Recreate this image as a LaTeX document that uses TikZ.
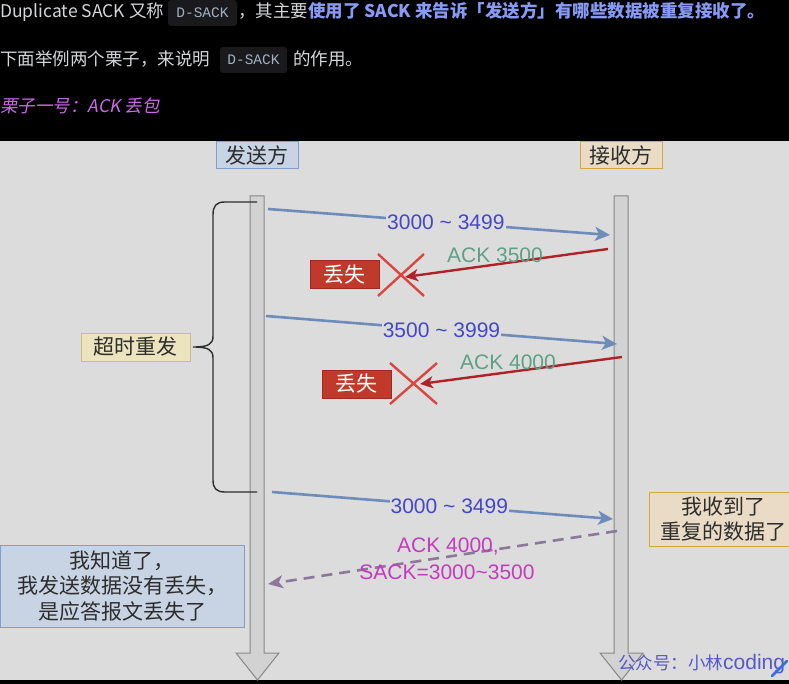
\documentclass[tikz,border=0pt]{standalone}
\usepackage{fontspec}
\setmainfont{Liberation Sans}
\setmonofont{Liberation Mono}
\newfontfamily\cjk{Noto Sans CJK SC}
\newfontfamily\cjkslant[FakeSlant=0.2]{Noto Sans CJK SC}
\usetikzlibrary{arrows.meta}

% Palette
\definecolor{pagebg}{RGB}{220,220,220}
\definecolor{hdrgrey}{RGB}{212,214,218}
\definecolor{hdrblue}{RGB}{135,155,245}
\definecolor{hdrpink}{RGB}{205,105,232}
\definecolor{codebg}{RGB}{26,26,28}
\definecolor{codefg}{RGB}{160,176,195}
\definecolor{textdark}{RGB}{45,45,45}
\definecolor{lifefill}{RGB}{210,210,210}
\definecolor{lifedraw}{RGB}{135,135,135}
\definecolor{sendfill}{RGB}{200,211,227}
\definecolor{senddraw}{RGB}{128,158,200}
\definecolor{recvfill}{RGB}{233,219,197}
\definecolor{recvdraw}{RGB}{214,166,62}
\definecolor{notefill}{RGB}{236,228,190}
\definecolor{notedraw}{RGB}{205,190,130}
\definecolor{lossfill}{RGB}{192,57,43}
\definecolor{lossdraw}{RGB}{160,40,32}
\definecolor{segblue}{RGB}{110,140,185}
\definecolor{seglabel}{RGB}{70,70,200}
\definecolor{ackred}{RGB}{175,35,40}
\definecolor{acklabel}{RGB}{95,160,135}
\definecolor{crossred}{RGB}{220,70,65}
\definecolor{sackdash}{RGB}{140,120,155}
\definecolor{sacklabel}{RGB}{195,60,190}
\definecolor{markblue}{RGB}{88,88,200}
\definecolor{slashblue}{RGB}{50,110,230}

\newcommand{\tld}{\textasciitilde}

\tikzset{
  hdrtext/.style={anchor=base west, inner sep=0pt, text=hdrgrey,
    font=\cjk\fontsize{17.5}{21}\selectfont},
  codebox/.style={fill=codebg, rounded corners=3pt, text=codefg, inner sep=0pt,
    minimum height=26pt, font=\ttfamily\fontsize{14.5}{17}\selectfont},
  rolebox/.style={draw, line width=1pt, inner sep=0pt, minimum width=82pt,
    minimum height=27pt, text=textdark, font=\cjk\fontsize{21}{25}\selectfont},
  notebox/.style={draw, line width=1pt, inner sep=0pt, align=center, text=textdark,
    font=\cjk\fontsize{21}{25.5}\selectfont},
  lossbox/.style={draw=lossdraw, fill=lossfill, line width=1pt, inner sep=0pt,
    minimum width=69pt, minimum height=28pt, text=white,
    font=\cjk\fontsize{21}{25}\selectfont},
  lifeline/.style={fill=lifefill, draw=lifedraw, line width=1pt, line join=miter},
  segarrow/.style={draw=segblue, line width=2.6pt,
    -{Stealth[length=15pt,width=14pt,inset=4pt]}},
  seglbl/.style={fill=pagebg, inner sep=1pt, text=seglabel,
    font=\fontsize{21}{25}\selectfont},
  ackarrow/.style={draw=ackred, line width=2.4pt,
    -{Stealth[length=13pt,width=12pt,inset=3.5pt]}},
  acklbl/.style={inner sep=0pt, text=acklabel, font=\fontsize{21}{25}\selectfont},
  cross/.style={draw=crossred, line width=2.4pt},
  sackarrow/.style={draw=sackdash, line width=2.6pt, dash pattern=on 11pt off 7pt,
    -{Stealth[length=15pt,width=13pt,inset=4pt]}},
  sacklbl/.style={inner sep=0pt, text=sacklabel, font=\fontsize{21}{25}\selectfont},
}

\begin{document}
\begin{tikzpicture}[x=1pt, y=-1pt]
\useasboundingbox (0,0) rectangle (789,684);
% Page background
\fill[black] (0,0) rectangle (789,684);

% Header lines
\node[hdrtext] (line1a) at (0,18) {Duplicate SACK 又称};
\node[codebox, minimum width=69pt] (dsack1) at (202.5,13) {D-SACK};
\node[hdrtext] (line1b) at (238,18) {，其主要{\color{hdrblue}\bfseries 使用了 SACK 来告诉「发送方」有哪些数据被重复接收了。}};
\node[hdrtext] (line2a) at (0,65.5) {下面举例两个栗子，来说明};
\node[codebox, minimum width=67pt] (dsack2) at (253.5,60) {D-SACK};
\node[hdrtext] (line2b) at (293,65.5) {的作用。};
\node[hdrtext, text=hdrpink, font=\cjkslant\fontsize{17.5}{21}\selectfont] (case1) at (0,113) {栗子一号：ACK 丢包};

% Diagram canvas
\fill[pagebg] (0,141) rectangle (789,680);

% Lifelines
\path[lifeline] (250,196) -- (264,196) -- (264,653) -- (279,653) -- (257.5,680)
  -- (236,653) -- (250,653) -- cycle;
\path[lifeline] (614,196) -- (628,196) -- (628,653) -- (643,653) -- (621.5,680)
  -- (600,653) -- (614,653) -- cycle;

% Roles
\node[rolebox, fill=sendfill, draw=senddraw] (sender) at (257,155.5) {发送方};
\node[rolebox, fill=recvfill, draw=recvdraw] (receiver) at (621,155.5) {接收方};

% Retransmission brace
\draw[textdark, line width=1.4pt] (257,202) -- (225,202) .. controls (216,202) and (213,206) .. (213,215)
  -- (213,336) .. controls (213,344) and (209,347) .. (193,347)
  .. controls (209,347) and (213,350) .. (213,358)
  -- (213,480) .. controls (213,488) and (216,492) .. (225,492) -- (257,492);
\node[notebox, fill=notefill, draw=notedraw, minimum width=109pt, minimum height=28pt] (timeout) at (135.5,347) {超时重发};

% Anchor points on the lifelines
\coordinate (snd1) at (268,209);  \coordinate (rcv1) at (610,235);
\coordinate (rcv2) at (608,249);  \coordinate (snd2) at (405,277);
\coordinate (snd3) at (266,316);  \coordinate (rcv3) at (617,344);
\coordinate (rcv4) at (622,357);  \coordinate (snd4) at (420,384);
\coordinate (snd5) at (272,492);  \coordinate (rcv5) at (613,519);
\coordinate (rcv6) at (617,531);  \coordinate (snd6) at (268,584);

% First segment and its lost ACK
\draw[segarrow] (snd1) -- node[seglbl, pos=0.52] (seg1) {3000 \tld{} 3499} (rcv1);
\draw[ackarrow] (rcv2) -- (snd2);
\node[acklbl] (ack1) at (495,255) {ACK 3500};
\draw[cross] (378,254) -- (424,296) (424,254) -- (378,296);
\node[lossbox] (lost1) at (344.5,275) {丢失};

% Second segment and its lost ACK
\draw[segarrow] (snd3) -- node[seglbl, pos=0.5] (seg2) {3500 \tld{} 3999} (rcv3);
\draw[ackarrow] (rcv4) -- (snd4);
\node[acklbl] (ack2) at (508,362) {ACK 4000};
\draw[cross] (390,363) -- (437,404) (437,363) -- (390,404);
\node[lossbox] (lost2) at (356.5,384) {丢失};

% Retransmitted segment and D-SACK reply
\draw[segarrow] (snd5) -- node[seglbl, pos=0.52] (seg3) {3000 \tld{} 3499} (rcv5);
\draw[sackarrow] (rcv6) -- (snd6);
\node[sacklbl] (sack1) at (448,547) {ACK 4000,};
\node[sacklbl] (sack2) at (447,572) {SACK=3000\tld{}3500};

% Notes
\node[notebox, fill=sendfill, draw=senddraw, minimum width=244pt, minimum height=82pt] (sendnote) at (122,586) {我知道了，\\我发送数据没有丢失，\\是应答报文丢失了};
\node[notebox, fill=recvfill, draw=recvdraw, minimum width=148pt, minimum height=54pt] (recvnote) at (723,519) {我收到了\\重复的数据了};

% Watermark
\node[anchor=base west, inner sep=0pt, text=markblue, font=\fontsize{21}{25}\selectfont] (mark) at (618,669) {{\cjk\fontsize{17.5}{21}\selectfont 公众号：小林}coding};
\draw[slashblue, line width=2.6pt, line cap=round] (772,676) -- (787,661);
\end{tikzpicture}
\end{document}
